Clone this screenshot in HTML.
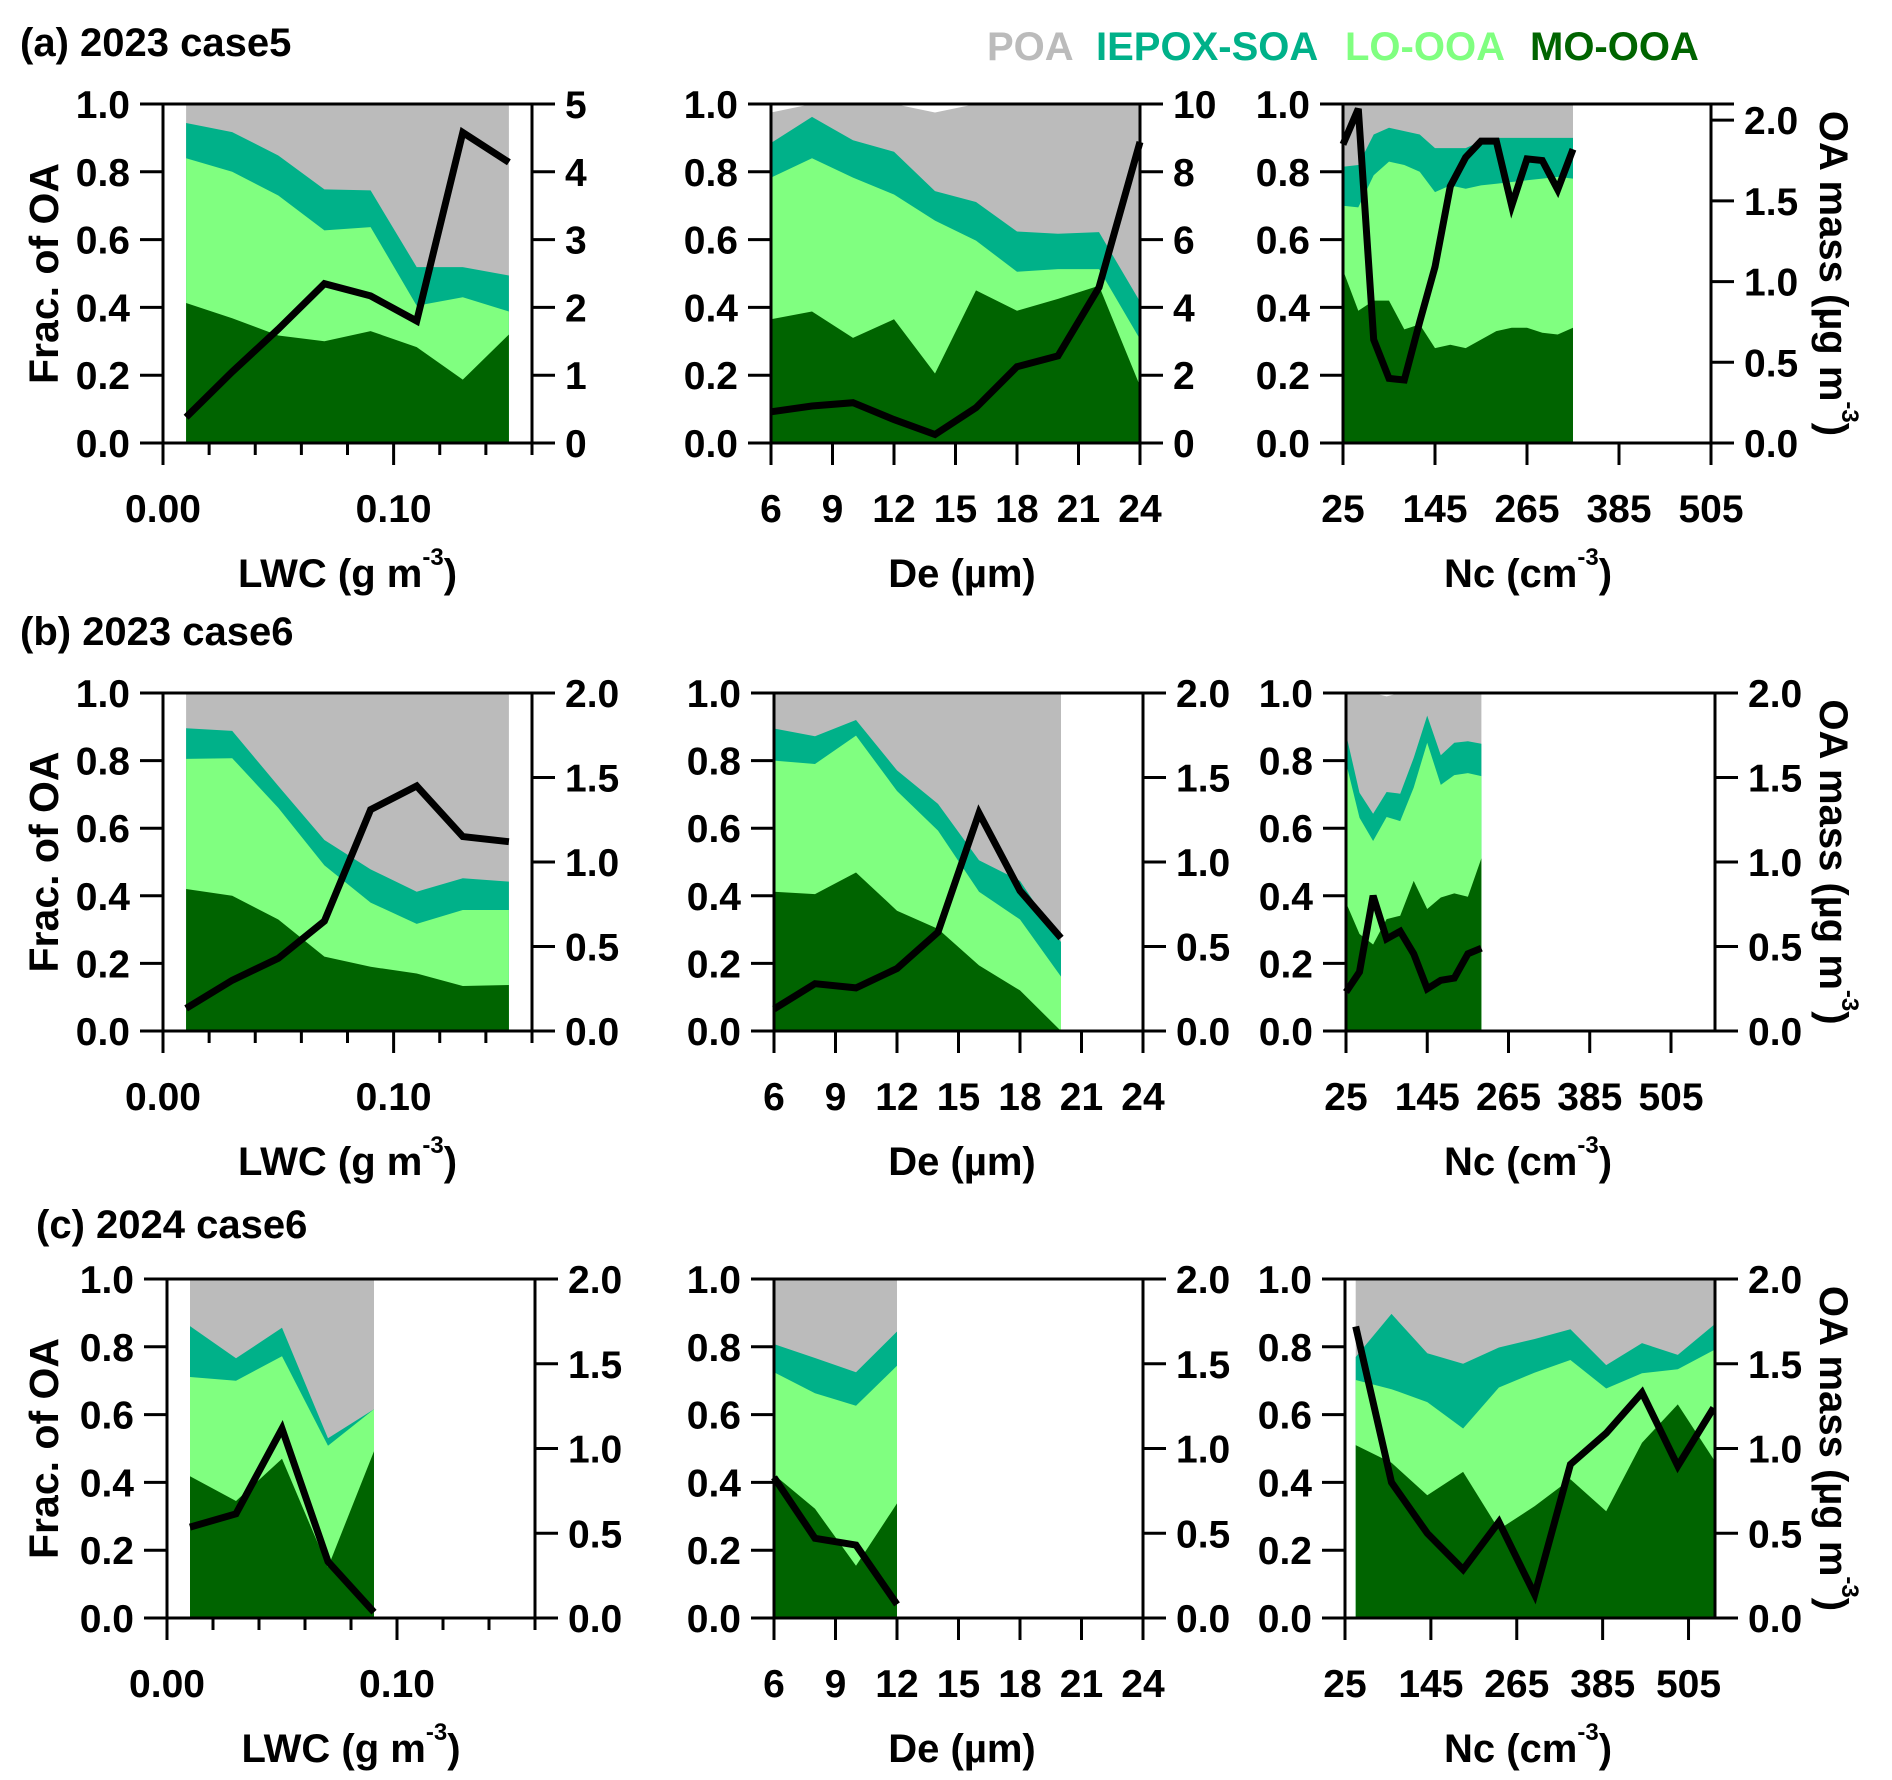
<!DOCTYPE html>
<html><head><meta charset="utf-8">
<style>
html,body{margin:0;padding:0;background:#fff;}
svg{display:block;font-family:"Liberation Sans",Arial,sans-serif;font-weight:bold;}
</style></head>
<body>
<svg id="fig" xmlns="http://www.w3.org/2000/svg" width="1892" height="1780" viewBox="0 0 1892 1780">
<text x="20" y="56" font-size="40">(a) 2023 case5</text>
<text x="20" y="645" font-size="40">(b) 2023 case6</text>
<text x="36" y="1238" font-size="40">(c) 2024 case6</text>
<g font-size="40">
<text x="987" y="60" fill="#bbbbbb">POA</text>
<text x="1096" y="60" fill="#00b189">IEPOX-SOA</text>
<text x="1345" y="60" fill="#80ff80">LO-OOA</text>
<text x="1530" y="60" fill="#006400">MO-OOA</text>
</g>
</svg>
<script>
const a1X=[0.01,0.03,0.05,0.07,0.09,0.11,0.13,0.15];
const a1MO=[0.413,0.368,0.317,0.30,0.33,0.283,0.187,0.32];
const a1LO=[0.84,0.80,0.73,0.627,0.637,0.405,0.43,0.388];
const a1IE=[0.944,0.917,0.848,0.748,0.745,0.519,0.519,0.494];
const a1POA=[1,1,1,1,1,1,1,1];
const a1OA=[0.38,1.05,1.68,2.35,2.17,1.80,4.58,4.14];

const a2X=[6,8,10,12,14,16,18,20,22,24];
const a2MO=[0.365,0.388,0.31,0.365,0.205,0.45,0.39,0.425,0.464,0.168];
const a2LO=[0.783,0.84,0.783,0.733,0.656,0.597,0.505,0.513,0.513,0.306];
const a2IE=[0.885,0.962,0.893,0.859,0.743,0.711,0.624,0.617,0.622,0.417];
const a2POA=[0.975,1,1,1,0.975,1,1,1,1,1];
const a2OA=[0.92,1.09,1.19,0.69,0.25,1.04,2.25,2.57,4.59,8.88];

const a3X=[25,45,65,85,105,125,145,165,185,205,225,245,265,285,305,325];
const a3MO=[0.51,0.39,0.42,0.42,0.335,0.35,0.28,0.29,0.28,0.305,0.33,0.34,0.34,0.325,0.32,0.34];
const a3LO=[0.70,0.695,0.79,0.83,0.82,0.80,0.74,0.76,0.75,0.76,0.765,0.77,0.775,0.78,0.785,0.78];
const a3IE=[0.815,0.82,0.91,0.93,0.92,0.91,0.87,0.87,0.87,0.89,0.90,0.90,0.90,0.90,0.90,0.90];
const a3POA=[1,1,1,1,1,1,1,1,1,1,1,1,1,1,1,1];
const a3OA=[1.85,2.07,0.64,0.40,0.39,0.75,1.09,1.59,1.77,1.87,1.87,1.47,1.76,1.75,1.57,1.82];

const b1X=[0.01,0.03,0.05,0.07,0.09,0.11,0.13,0.15];
const b1MO=[0.42,0.40,0.33,0.22,0.19,0.17,0.133,0.136];
const b1LO=[0.805,0.807,0.66,0.49,0.38,0.317,0.358,0.358];
const b1IE=[0.896,0.888,0.725,0.565,0.478,0.412,0.452,0.442];
const b1POA=[1,1,1,1,1,1,1,1];
const b1OA=[0.134,0.30,0.43,0.65,1.31,1.45,1.15,1.12];

const b2X=[6,8,10,12,14,16,18,20];
const b2MO=[0.412,0.405,0.469,0.356,0.302,0.194,0.12,0];
const b2LO=[0.80,0.79,0.874,0.71,0.593,0.412,0.33,0.161];
const b2IE=[0.895,0.872,0.92,0.771,0.672,0.505,0.444,0.263];
const b2POA=[1,1,1,1,1,1,1,1];
const b2OA=[0.13,0.28,0.255,0.37,0.585,1.29,0.83,0.55];

const b3X=[25,45,65,85,105,125,145,165,185,205,225];
const b3MO=[0.38,0.287,0.256,0.331,0.341,0.444,0.361,0.395,0.407,0.397,0.511];
const b3LO=[0.794,0.631,0.562,0.633,0.621,0.72,0.853,0.728,0.757,0.763,0.754];
const b3IE=[0.879,0.705,0.643,0.707,0.702,0.808,0.933,0.816,0.853,0.857,0.85];
const b3POA=[1,1,1,0.99,1,1,1,1,1,1,1];
const b3OA=[0.23,0.35,0.80,0.545,0.59,0.457,0.25,0.30,0.313,0.457,0.49];

const c1X=[0.01,0.03,0.05,0.07,0.09];
const c1MO=[0.418,0.345,0.47,0.15,0.492];
const c1LO=[0.711,0.70,0.772,0.508,0.616];
const c1IE=[0.861,0.766,0.856,0.53,0.616];
const c1POA=[1,1,1,1,1];
const c1OA=[0.536,0.615,1.117,0.333,0.034];

const c2X=[6,8,10,12];
const c2MO=[0.423,0.322,0.154,0.338];
const c2LO=[0.725,0.663,0.626,0.744];
const c2IE=[0.808,0.767,0.725,0.845];
const c2POA=[1,1,1,1];
const c2OA=[0.83,0.47,0.43,0.08];

const c3X=[40,90,140,190,240,290,340,390,440,490,540];
const c3MO=[0.51,0.458,0.362,0.431,0.261,0.33,0.409,0.315,0.517,0.63,0.468];
const c3LO=[0.702,0.675,0.637,0.559,0.68,0.724,0.761,0.677,0.722,0.734,0.79];
const c3IE=[0.77,0.897,0.781,0.75,0.798,0.823,0.852,0.746,0.811,0.776,0.864];
const c3POA=[1,1,1,1,1,1,1,1,1,1,1];
const c3OA=[1.72,0.80,0.50,0.286,0.567,0.138,0.906,1.09,1.33,0.897,1.24];

const lwcTicks=[0,0.02,0.04,0.06,0.08,0.10,0.12,0.14,0.16];
const lwcLabels=["0.00","","","","","0.10","","",""];
const deTicks=[6,9,12,15,18,21,24];
const deLabels=["6","9","12","15","18","21","24"];
const ncTicks=[25,145,265,385,505];
const ncLabels=["25","145","265","385","505"];
const fracTicks=[0,0.2,0.4,0.6,0.8,1.0];
const fracLabels=["0.0","0.2","0.4","0.6","0.8","1.0"];
const mass5Ticks=[0,1,2,3,4,5];
const mass5Labels=["0","1","2","3","4","5"];
const mass10Ticks=[0,2,4,6,8,10];
const mass10Labels=["0","2","4","6","8","10"];
const mass2Ticks=[0,0.5,1.0,1.5,2.0];
const mass2Labels=["0.0","0.5","1.0","1.5","2.0"];

const NS="http://www.w3.org/2000/svg";
const svg=document.getElementById('fig');
function mk(tag,attrs,parent){const e=document.createElementNS(NS,tag);for(const k in attrs)e.setAttribute(k,attrs[k]);(parent||svg).appendChild(e);return e;}
const COL={POA:"#bbbbbb",IE:"#00b189",LO:"#80ff80",MO:"#006400"};
const TF=39;

function panel(id,g){
  const grp=mk('g',{});
  
  
  const sx=v=>g.L+(v-g.x0)/(g.x1-g.x0)*(g.R-g.L);
  const sy=v=>g.B-v*(g.B-g.T);
  const sr=v=>g.B-v/g.rmax*(g.B-g.T);
  const xs=g.X;
  const layers=[["POA",g.POA,"poa"],["IE",g.IE,"iepox-soa"],["LO",g.LO,"lo-ooa"],["MO",g.MO,"mo-ooa"]];
  layers.forEach(([k,arr,nm])=>{
    let d='M'+sx(xs[0])+','+g.B;
    xs.forEach((x,i)=>{d+=' L'+sx(x).toFixed(1)+','+sy(arr[i]).toFixed(1);});
    d+=' L'+sx(xs[xs.length-1])+','+g.B+' Z';
    const p=mk('path',{d:d,fill:COL[k]},grp);
    
    
  });
  let ld='';
  xs.forEach((x,i)=>{ld+=(i?' L':'M')+sx(x).toFixed(1)+','+sr(g.OA[i]).toFixed(1);});
  const ln=mk('path',{d:ld,fill:'none',stroke:'#000','stroke-width':7,'stroke-linejoin':'miter'},grp);
  
  
  const ax=mk('g',{stroke:'#000','stroke-width':3,fill:'none'},grp);
  
  
  mk('line',{x1:g.L,y1:g.T,x2:g.L,y2:g.B},ax);
  mk('line',{x1:g.R,y1:g.T,x2:g.R,y2:g.B},ax);
  mk('line',{x1:g.L-23,y1:g.T,x2:g.R+23,y2:g.T},ax);
  mk('line',{x1:g.L-23,y1:g.B,x2:g.R+23,y2:g.B},ax);
  fracTicks.forEach((v,i)=>{
    mk('line',{x1:g.L-23,y1:sy(v),x2:g.L,y2:sy(v)},ax);
    const t=mk('text',{x:g.L-33,y:sy(v)+14,'font-size':TF,'text-anchor':'end'},grp);
    t.textContent=fracLabels[i];
    
    
  });
  g.rT.forEach((v,i)=>{
    mk('line',{x1:g.R,y1:sr(v),x2:g.R+23,y2:sr(v)},ax);
    const t=mk('text',{x:g.R+33,y:sr(v)+14,'font-size':TF,'text-anchor':'start'},grp);
    t.textContent=g.rL[i];
    
    
  });
  g.xT.forEach((v,i)=>{
    const major=g.xL[i]!=="";
    const len=(g.minor&&!major)?12:22;
    mk('line',{x1:sx(v),y1:g.B,x2:sx(v),y2:g.B+len},ax);
    if(major){
      const t=mk('text',{x:sx(v),y:g.B+79,'font-size':TF,'text-anchor':'middle'},grp);
      t.textContent=g.xL[i];
      
      
    }
  });
  const xt=mk('text',{x:g.xtX,y:g.B+144,'font-size':40,'text-anchor':'middle'},grp);
  
  
  const s1=mk('tspan',{},xt);s1.textContent=g.xt[0];
  if(g.xt[1]){
    const s2=mk('tspan',{'font-size':24,dy:-22},xt);s2.textContent=g.xt[1];
    const s3=mk('tspan',{dy:22},xt);s3.textContent=g.xt[2];
  }
  if(g.leftTitle){
    const cy=(g.T+g.B)/2;
    const t=mk('text',{x:58,y:cy,'font-size':41,'text-anchor':'middle',transform:'rotate(-90 58 '+cy+')'},grp);
    t.textContent='Frac. of OA';
    
    
  }
  if(g.rightTitle){
    const cy=(g.T+g.B)/2, x=1820;
    const t=mk('text',{x:x,y:cy,'font-size':40,'text-anchor':'middle',transform:'rotate(90 '+x+' '+cy+')'},grp);
    
    
    const a=mk('tspan',{},t);a.textContent='OA mass (µg m';
    const b=mk('tspan',{'font-size':24,dy:-22},t);b.textContent='-3';
    const c=mk('tspan',{dy:22},t);c.textContent=')';
  }
}
const LWC=["LWC (g m","-3",")"], DE=["De (µm)"], NC=["Nc (cm","-3",")"];
const rows=[[104,443],[693,1031],[1279,1618]];
function cfgL(r,X,MO,LO,IE,POA,OA,rmax,rT,rL,L,R){return {L:L,R:R,T:rows[r][0],B:rows[r][1],x0:0,x1:0.16,X,MO,LO,IE,POA,OA,rmax,rT,rL,xT:lwcTicks,xL:lwcLabels,minor:true,xt:LWC,xtX:(L+R)/2,leftTitle:true};}
function cfgM(r,X,MO,LO,IE,POA,OA,rmax,rT,rL,L,R){return {L:L,R:R,T:rows[r][0],B:rows[r][1],x0:6,x1:24,X,MO,LO,IE,POA,OA,rmax,rT,rL,xT:deTicks,xL:deLabels,xt:DE,xtX:962};}
function cfgR(r,X,MO,LO,IE,POA,OA,rmax,rT,rL,L,R,x1){return {L:L,R:R,T:rows[r][0],B:rows[r][1],x0:25,x1:x1,X,MO,LO,IE,POA,OA,rmax,rT,rL,xT:ncTicks,xL:ncLabels,xt:NC,xtX:1528,rightTitle:true};}
panel('a-lwc',cfgL(0,a1X,a1MO,a1LO,a1IE,a1POA,a1OA,5,mass5Ticks,mass5Labels,163,532));
panel('a-de',cfgM(0,a2X,a2MO,a2LO,a2IE,a2POA,a2OA,10,mass10Ticks,mass10Labels,771,1140));
panel('a-nc',cfgR(0,a3X,a3MO,a3LO,a3IE,a3POA,a3OA,2.1,mass2Ticks,mass2Labels,1343,1711,505));
panel('b-lwc',cfgL(1,b1X,b1MO,b1LO,b1IE,b1POA,b1OA,2,mass2Ticks,mass2Labels,163,532));
panel('b-de',cfgM(1,b2X,b2MO,b2LO,b2IE,b2POA,b2OA,2,mass2Ticks,mass2Labels,774,1143));
panel('b-nc',cfgR(1,b3X,b3MO,b3LO,b3IE,b3POA,b3OA,2,mass2Ticks,mass2Labels,1346,1715,570));
panel('c-lwc',cfgL(2,c1X,c1MO,c1LO,c1IE,c1POA,c1OA,2,mass2Ticks,mass2Labels,167,535));
panel('c-de',cfgM(2,c2X,c2MO,c2LO,c2IE,c2POA,c2OA,2,mass2Ticks,mass2Labels,774,1143));
panel('c-nc',cfgR(2,c3X,c3MO,c3LO,c3IE,c3POA,c3OA,2,mass2Ticks,mass2Labels,1345,1715,542));
</script>
</body></html>
